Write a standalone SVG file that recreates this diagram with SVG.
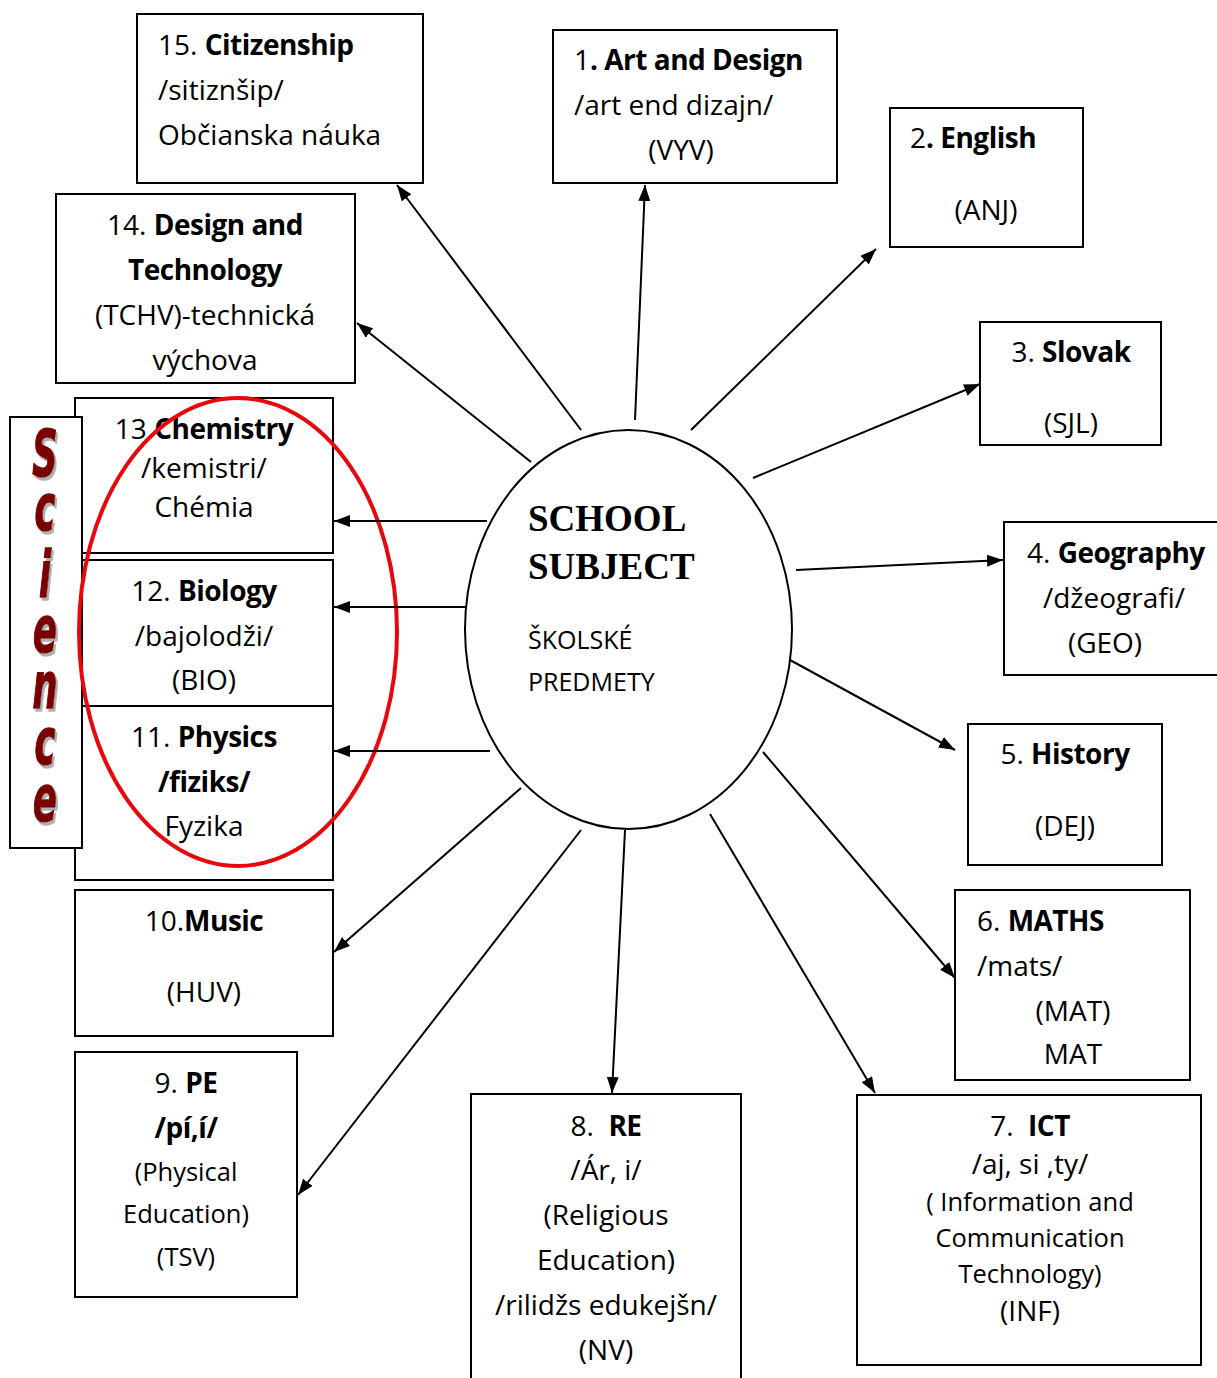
<svg xmlns="http://www.w3.org/2000/svg" width="1217" height="1378" viewBox="0 0 1217 1378">
<style>
.box{fill:#fff;stroke:#000;stroke-width:2}
.t{font-family:"Open Sans","Noto Sans",sans-serif;font-size:28px;fill:#000}
.c{text-anchor:middle}
.b{font-weight:bold;letter-spacing:-0.5px}
.s{font-size:25.5px}
.con line{stroke:#000;stroke-width:2;marker-end:url(#ah)}
.sci{font-family:"DejaVu Sans",sans-serif;font-weight:bold;font-style:italic;font-size:64px;text-anchor:middle;fill:#7a0000;stroke:#7a0000;stroke-width:1.5}
</style>
<defs>
<marker id="ah" viewBox="0 0 16 12" refX="16" refY="6" markerWidth="16" markerHeight="12" markerUnits="userSpaceOnUse" orient="auto">
<path d="M0,0 L16,6 L0,12 z" fill="#000"/>
</marker>
<filter id="shadow" x="-20%" y="-20%" width="160%" height="160%">
<feOffset in="SourceAlpha" dx="3" dy="3" result="off"/>
<feFlood flood-color="#b0b0b0"/>
<feComposite in2="off" operator="in" result="sh"/>
<feMerge><feMergeNode in="sh"/><feMergeNode in="SourceGraphic"/></feMerge>
</filter>
</defs>
<rect width="1217" height="1378" fill="#fff"/>

<g id="n15"><rect class="box" x="137" y="14" width="286" height="169"/>
<text class="t" x="158" y="55">15. <tspan class="b">Citizenship</tspan></text>
<text class="t" x="158" y="100">/sitiznšip/</text>
<text class="t" x="158" y="145">Občianska náuka</text></g>

<g id="n14"><rect class="box" x="56" y="194" width="299" height="189"/>
<text class="t c" x="205" y="235">14. <tspan class="b">Design and</tspan></text>
<text class="t c b" x="205" y="280">Technology</text>
<text class="t c" x="205" y="325">(TCHV)-technická</text>
<text class="t c" x="205" y="370">výchova</text></g>

<g id="n1"><rect class="box" x="553" y="30" width="284" height="153"/>
<text class="t" x="574" y="70">1<tspan class="b">. Art and Design</tspan></text>
<text class="t" x="574" y="115">/art end dizajn/</text>
<text class="t c" x="681" y="160">(VYV)</text></g>

<g id="n2"><rect class="box" x="890" y="108" width="193" height="139"/>
<text class="t" x="910" y="148">2<tspan class="b">. English</tspan></text>
<text class="t c" x="986" y="220">(ANJ)</text></g>

<g id="n3"><rect class="box" x="980" y="322" width="181" height="123"/>
<text class="t c" x="1071" y="362">3. <tspan class="b">Slovak</tspan></text>
<text class="t c" x="1071" y="433">(SJL)</text></g>

<g id="n4"><rect class="box" x="1004" y="522" width="216" height="153"/>
<text class="t" x="1027" y="563">4. <tspan class="b">Geography</tspan></text>
<text class="t c" x="1114" y="608">/džeografi/</text>
<text class="t c" x="1105" y="653">(GEO)</text></g>

<g id="n5"><rect class="box" x="968" y="724" width="194" height="141"/>
<text class="t c" x="1065" y="764">5. <tspan class="b">History</tspan></text>
<text class="t c" x="1065" y="836">(DEJ)</text></g>

<g id="n6"><rect class="box" x="955" y="890" width="235" height="190"/>
<text class="t" x="977" y="931">6. <tspan class="b">MATHS</tspan></text>
<text class="t" x="977" y="976">/mats/</text>
<text class="t c" x="1073" y="1021">(MAT)</text>
<text class="t c" x="1073" y="1064">MAT</text></g>

<g id="n7"><rect class="box" x="857" y="1095" width="344" height="270"/>
<text class="t c" x="1030" y="1136" xml:space="preserve">7.  <tspan class="b">ICT</tspan></text>
<text class="t c" x="1030" y="1174">/aj, si ,ty/</text>
<text class="t c s" x="1030" y="1211">( Information and</text>
<text class="t c s" x="1030" y="1247">Communication</text>
<text class="t c s" x="1030" y="1283">Technology)</text>
<text class="t c" x="1030" y="1321">(INF)</text></g>

<g id="n8"><rect class="box" x="471" y="1094" width="270" height="300"/>
<text class="t c" x="606" y="1136" xml:space="preserve">8.  <tspan class="b">RE</tspan></text>
<text class="t c" x="606" y="1180">/Ár, i/</text>
<text class="t c" x="606" y="1225">(Religious</text>
<text class="t c" x="606" y="1270">Education)</text>
<text class="t c" x="606" y="1315">/rilidžs edukejšn/</text>
<text class="t c" x="606" y="1360">(NV)</text></g>

<g id="n9"><rect class="box" x="75" y="1052" width="222" height="245"/>
<text class="t c" x="186" y="1093">9. <tspan class="b">PE</tspan></text>
<text class="t c b" x="186" y="1138">/pí,í/</text>
<text class="t c s" x="186" y="1181">(Physical</text>
<text class="t c s" x="186" y="1223">Education)</text>
<text class="t c s" x="186" y="1266">(TSV)</text></g>

<g id="n10"><rect class="box" x="75" y="890" width="258" height="146"/>
<text class="t c" x="204" y="931">10.<tspan class="b">Music</tspan></text>
<text class="t c" x="204" y="1002">(HUV)</text></g>

<g id="n11"><rect class="box" x="75" y="706" width="258" height="174"/>
<text class="t c" x="204" y="747">11. <tspan class="b">Physics</tspan></text>
<text class="t c b" x="204" y="792">/fiziks/</text>
<text class="t c" x="204" y="836">Fyzika</text></g>

<g id="n12"><rect class="box" x="75" y="560" width="258" height="146"/>
<text class="t c" x="204" y="601">12. <tspan class="b">Biology</tspan></text>
<text class="t c" x="204" y="646">/bajolodži/</text>
<text class="t c" x="204" y="690">(BIO)</text></g>

<g id="n13"><rect class="box" x="75" y="398" width="258" height="155"/>
<text class="t c" x="204" y="439">13.<tspan class="b">Chemistry</tspan></text>
<text class="t c" x="204" y="478">/kemistri/</text>
<text class="t c" x="204" y="517">Chémia</text></g>

<g id="science"><rect class="box" x="10" y="417" width="72" height="431"/>
<text class="sci" filter="url(#shadow)" transform="scale(0.55,1)"><tspan x="81.8" y="476">S</tspan><tspan x="81.8" y="530">c</tspan><tspan x="81.8" y="597">i</tspan><tspan x="81.8" y="652">e</tspan><tspan x="81.8" y="708">n</tspan><tspan x="81.8" y="764">c</tspan><tspan x="81.8" y="821">e</tspan></text>
</g>

<ellipse id="science-ring" cx="238" cy="632" rx="159" ry="234" fill="none" stroke="#e8080c" stroke-width="4"/>

<g id="center"><ellipse cx="628.5" cy="629.5" rx="163.5" ry="199.5" fill="#fff" stroke="#000" stroke-width="2"/>
<text x="528" y="531" style="font-family:'Liberation Serif',serif;font-weight:bold;font-size:37px">SCHOOL</text>
<text x="528" y="579" style="font-family:'Liberation Serif',serif;font-weight:bold;font-size:37px">SUBJECT</text>
<text class="t" x="528" y="649" style="font-size:25px">ŠKOLSKÉ</text>
<text class="t" x="528" y="691" style="font-size:25px">PREDMETY</text></g>

<g id="connectors" class="con">
<line x1="581" y1="430" x2="397" y2="185"/>
<line x1="531" y1="462" x2="357" y2="323"/>
<line x1="635" y1="420" x2="645" y2="185"/>
<line x1="691" y1="430" x2="876" y2="249"/>
<line x1="753" y1="478" x2="980" y2="384"/>
<line x1="796" y1="570" x2="1003" y2="560"/>
<line x1="790" y1="660" x2="955" y2="750"/>
<line x1="763" y1="752" x2="955" y2="978"/>
<line x1="710" y1="814" x2="875" y2="1093"/>
<line x1="625" y1="830" x2="612" y2="1093"/>
<line x1="581" y1="830" x2="298" y2="1195"/>
<line x1="521" y1="788" x2="334" y2="952"/>
<line x1="490" y1="751" x2="334" y2="751"/>
<line x1="466" y1="607" x2="334" y2="607"/>
<line x1="487" y1="521" x2="334" y2="521"/>
</g>
</svg>
